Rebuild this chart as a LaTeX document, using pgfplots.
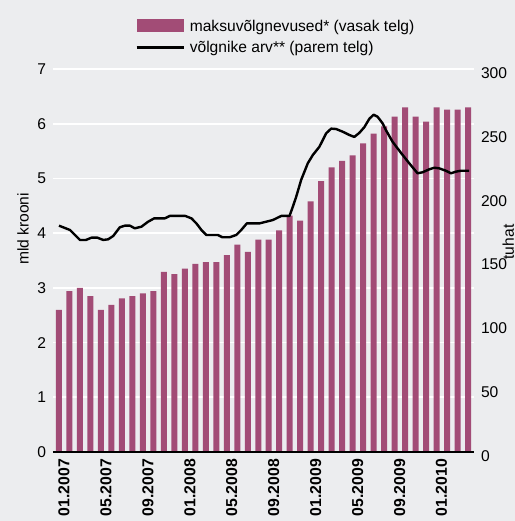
\documentclass[border=0pt]{standalone}
\usepackage{pgfplots}
\pgfplotsset{compat=1.18}
\usepackage{fontspec}
\setmainfont{Liberation Sans}
\definecolor{barcol}{RGB}{162,76,118}
\definecolor{bgcol}{RGB}{236,237,239}
\newcommand\lblfont{\fontsize{7.8}{9}\selectfont}
\begin{document}
\begin{tikzpicture}[x=1pt,y=1pt]
\fill[bgcol] (0,0) rectangle (257.5,260.5);
\useasboundingbox (0,0) rectangle (257.5,260.5);
\begin{axis}[
  at={(26.5pt,34.5pt)}, anchor=south west,
  scale only axis, width=210.5pt, height=191.5pt,
  xmin=-0.57, xmax=39.57, ymin=0, ymax=7,
  axis line style={draw=none},
  major tick length=0pt,
  ytick={0,1,...,7},
  ymajorgrids, major grid style={white, line width=0.8pt},
  xtick={0,4,...,36},
  xticklabels={01.2007,05.2007,09.2007,01.2008,05.2008,09.2008,01.2009,05.2009,09.2009,01.2010},
  xticklabel style={rotate=90, anchor=east, font=\bfseries\fontsize{7.9}{9}\selectfont, yshift=-2.5pt},
  yticklabel style={font=\lblfont},
  /pgf/number format/assume math mode=true,
  legend style={at={(0.1948,1.1305)}, anchor=north west, draw=none, fill=none, inner sep=0pt, row sep=2.35pt, font=\lblfont,
    nodes={inner xsep=2.5pt, inner ysep=0pt, text height=6pt, text depth=2pt}, cells={anchor=base west}},
]
\addplot[ybar, bar width=3pt, fill=barcol, draw=none,
  legend image code/.code={\fill[barcol] (0pt,-0.5pt) rectangle (23.5pt,6pt);}] table {
x y
0 2.60
1 2.94
2 3.00
3 2.85
4 2.60
5 2.69
6 2.81
7 2.85
8 2.90
9 2.94
10 3.29
11 3.25
12 3.35
13 3.44
14 3.47
15 3.47
16 3.60
17 3.79
18 3.66
19 3.88
20 3.88
21 4.05
22 4.32
23 4.23
24 4.58
25 4.95
26 5.20
27 5.32
28 5.42
29 5.64
30 5.82
31 5.95
32 6.13
33 6.30
34 6.13
35 6.04
36 6.30
37 6.26
38 6.26
39 6.30
};
\addlegendentry{maksuvõlgnevused* (vasak telg)}
\addlegendimage{legend image code/.code={\draw[black,line width=1.2pt] (0pt,2.35pt) -- (23.5pt,2.35pt);}}
\addlegendentry{võlgnike arv** (parem telg)}
\draw[black, line width=0.6pt] (rel axis cs:0,0) -- (rel axis cs:1,0);
\end{axis}
\begin{axis}[
  at={(26.5pt,34.5pt)}, anchor=south west,
  scale only axis, width=210.5pt, height=191.5pt,
  xmin=-0.57, xmax=39.57, ymin=0, ymax=300,
  axis line style={draw=none}, major tick length=0pt,
  xtick=\empty, ytick={0,50,...,300},
  yticklabel pos=right,
  yticklabel style={font=\lblfont, yshift=-2pt},
  /pgf/number format/assume math mode=true,
]
\addplot[black, line width=1.2pt, line join=round] table {
x y
0 177.3
1.05 173.9
2.0 166.1
2.57 166.1
3.11 167.9
3.65 167.9
4.22 166.1
4.69 166.6
5.17 169.2
5.8 176.0
6.28 177.3
6.76 177.3
7.23 175.2
7.87 176.5
8.5 180.4
9.07 183.0
10.09 183.0
10.56 184.9
12.05 184.9
12.63 183.0
13.1 179.1
13.58 173.9
14.05 170.0
15.15 170.0
15.58 168.2
16.27 168.2
16.9 170.0
17.38 173.9
17.91 179.1
19.12 179.1
19.76 180.4
20.39 181.7
21.19 184.9
21.98 184.9
22.3 192.2
22.62 200.0
23.09 213.1
23.72 226.1
24.2 232.6
24.83 239.1
25.47 249.6
25.95 253.3
26.42 253.0
27.05 250.9
27.69 248.3
28.16 246.8
28.64 250.0
29.12 254.5
29.59 261.0
30.0 264.2
30.38 262.6
30.86 257.4
31.18 252.0
31.81 243.0
32.6 234.4
33.4 226.1
34.19 218.3
34.66 219.1
35.3 221.4
35.78 222.7
36.25 222.2
36.89 220.3
37.37 218.3
37.84 219.6
38.32 220.3
39.1 220.3
};
\end{axis}
\node[rotate=90, font=\lblfont] at (11.5,146) {mld krooni};
\node[rotate=90, anchor=south, inner sep=0pt, font=\lblfont] at (257.2,139.5) {tuhat};
\end{tikzpicture}
\end{document}
